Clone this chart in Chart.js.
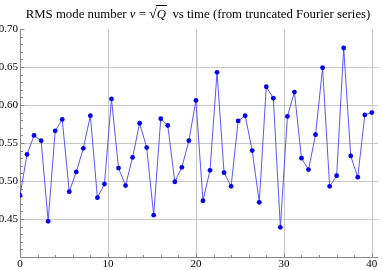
<!DOCTYPE html>
<html>
<head>
<meta charset="utf-8">
<script src="https://cdn.jsdelivr.net/npm/chart.js@4"></script>
<style>
  html, body { margin: 0; padding: 0; background: #fff; }
  #wrap { width: 382px; height: 270px; }
</style>
</head>
<body>
<div id="wrap"><canvas id="rmsChart"></canvas></div>
<script>
// time samples and RMS mode number values
var times = [0, 0.8, 1.6, 2.4, 3.2, 4, 4.8, 5.6, 6.4, 7.2, 8, 8.8, 9.6, 10.4, 11.2, 12, 12.8, 13.6, 14.4, 15.2,
  16, 16.8, 17.6, 18.4, 19.2, 20, 20.8, 21.6, 22.4, 23.2, 24, 24.8, 25.6, 26.4, 27.2, 28, 28.8, 29.6, 30.4, 31.2,
  32, 32.8, 33.6, 34.4, 35.2, 36, 36.8, 37.6, 38.4, 39.2, 40];
var nu = [0.481, 0.535, 0.560, 0.553, 0.447, 0.566, 0.581, 0.486, 0.512, 0.543, 0.586, 0.478, 0.496,
  0.608, 0.517, 0.494, 0.531, 0.576, 0.544, 0.455, 0.582, 0.573, 0.499, 0.518, 0.553, 0.606,
  0.474, 0.514, 0.643, 0.511, 0.493, 0.579, 0.586, 0.540, 0.472, 0.624, 0.609, 0.439,
  0.585, 0.617, 0.530, 0.515, 0.561, 0.649, 0.493, 0.507, 0.675, 0.533, 0.505, 0.587, 0.590];

var xLabels = [0, 10, 20, 30, 40];
var yLabels = [0.45, 0.50, 0.55, 0.60, 0.65, 0.70];
var xGrid = [10, 20, 30, 40];
var yGrid = [0.45, 0.50, 0.55, 0.60, 0.65];

var points = times.map(function (t, i) { return { x: t, y: nu[i] }; });

var serif = '"Liberation Serif", "DejaVu Serif", serif';

// grid, axes and inward ticks, Mathematica style
var framePlugin = {
  id: 'frame',
  beforeDatasetsDraw: function (chart) {
    var c = chart.ctx, xs = chart.scales.x, ys = chart.scales.y, a = chart.chartArea;
    c.save();
    c.strokeStyle = '#c8c8c8';
    c.lineWidth = 1;
    xGrid.forEach(function (v) {
      var px = Math.round(xs.getPixelForValue(v)) + 0.5;
      c.beginPath(); c.moveTo(px, a.top); c.lineTo(px, a.bottom); c.stroke();
    });
    yGrid.forEach(function (v) {
      var py = Math.round(ys.getPixelForValue(v)) + 0.5;
      c.beginPath(); c.moveTo(a.left, py); c.lineTo(a.right, py); c.stroke();
    });
    // axes
    c.strokeStyle = '#888';
    var x0 = Math.round(a.left) + 0.5, y0 = Math.round(a.bottom) + 0.5;
    c.beginPath(); c.moveTo(x0, a.top); c.lineTo(x0, y0); c.lineTo(a.right, y0); c.stroke();
    // x ticks
    for (var t = 0; t <= 40; t += 2) {
      var px = Math.round(xs.getPixelForValue(t)) + 0.5;
      var len = (t % 10 === 0) ? 4 : 2.5;
      c.beginPath(); c.moveTo(px, y0); c.lineTo(px, y0 - len); c.stroke();
    }
    // y ticks
    for (var k = 40; k <= 70; k++) {
      var py = Math.round(ys.getPixelForValue(k / 100)) + 0.5;
      var l2 = (k % 5 === 0) ? 4 : 2.5;
      c.beginPath(); c.moveTo(x0, py); c.lineTo(x0 + l2, py); c.stroke();
    }
    c.restore();
  },
  afterDraw: function (chart) {
    var c = chart.ctx;
    c.save();
    c.fillStyle = '#000';
    c.textBaseline = 'alphabetic';
    var roman = '12.8px ' + serif, italic = 'italic 12.8px ' + serif;
    var parts = [
      [roman, 'RMS mode number '], [italic, 'ν'], [roman, ' = '], ['14px ' + serif, '√'],
      [italic, 'Q'], [roman, '  vs time (from truncated Fourier series)']
    ];
    var total = 0;
    parts.forEach(function (p) { c.font = p[0]; total += c.measureText(p[1]).width; });
    var x = 198 - total / 2, y = 18;
    var qStart = 0, qEnd = 0;
    parts.forEach(function (p) {
      c.font = p[0];
      if (p[1] === 'Q') qStart = x;
      c.fillText(p[1], x, y);
      x += c.measureText(p[1]).width;
      if (p[1] === 'Q') qEnd = x;
    });
    c.strokeStyle = '#000';
    c.lineWidth = 1;
    c.beginPath(); c.moveTo(qStart - 1, 5.5); c.lineTo(qEnd + 1, 5.5); c.stroke();
    c.restore();
  }
};

var ctx = document.getElementById('rmsChart').getContext('2d');
var rmsChart = new Chart(ctx, {
  type: 'scatter',
  data: {
    datasets: [{
      data: points,
      showLine: true,
      borderColor: 'rgba(70, 70, 255, 0.9)',
      borderWidth: 1,
      pointBackgroundColor: '#0000f0',
      pointBorderColor: '#0000f0',
      pointRadius: 2.4,
      pointBorderWidth: 0
    }]
  },
  options: {
    responsive: true,
    maintainAspectRatio: false,
    animation: false,
    layout: { padding: { top: 29, right: 2, left: 0, bottom: 0 } },
    plugins: { legend: { display: false }, tooltip: { enabled: false }, title: { display: false } },
    scales: {
      x: {
        type: 'linear',
        min: 0,
        max: 40.7,
        border: { display: false },
        grid: { display: false, drawTicks: false },
        afterFit: function (s) { s.height = 13; },
        afterBuildTicks: function (s) { s.ticks = xLabels.map(function (v) { return { value: v }; }); },
        ticks: {
          padding: 1,
          autoSkip: false,
          maxRotation: 0,
          color: '#000',
          font: { family: serif, size: 11 },
          callback: function (v) { return String(v); }
        }
      },
      y: {
        min: 0.40,
        max: 0.70,
        border: { display: false },
        grid: { display: false, drawTicks: false },
        afterFit: function (s) { s.width = 20; },
        afterBuildTicks: function (s) { s.ticks = yLabels.map(function (v) { return { value: v }; }); },
        ticks: {
          padding: 2,
          autoSkip: false,
          color: '#000',
          font: { family: serif, size: 11 },
          callback: function (v) { return v.toFixed(2); }
        }
      }
    }
  },
  plugins: [framePlugin]
});
</script>
</body>
</html>
